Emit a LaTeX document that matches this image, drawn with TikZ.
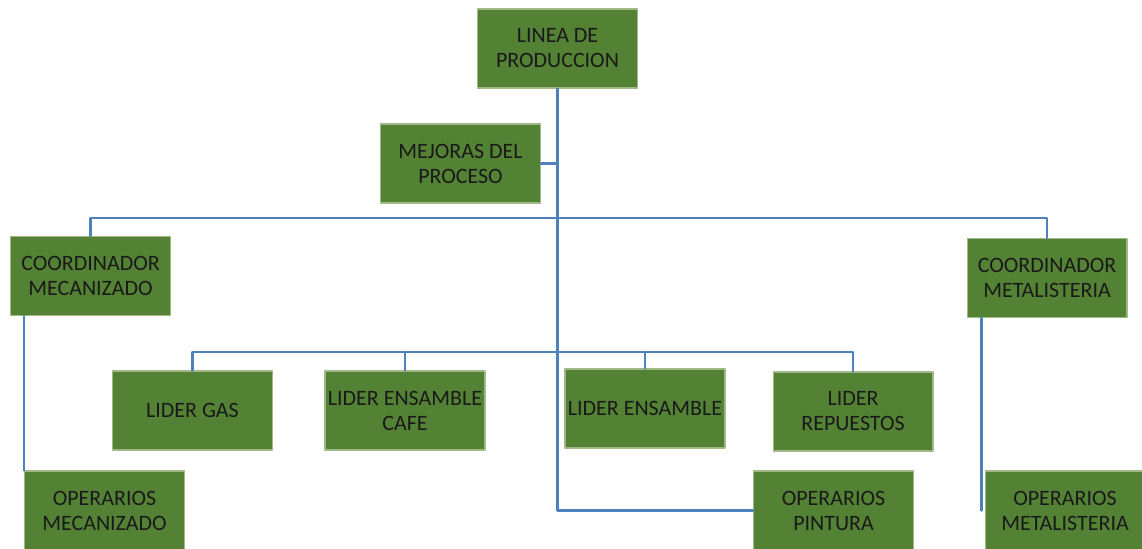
\documentclass[tikz,border=0pt]{standalone}
\usepackage{fontspec}
\setmainfont{Carlito}
\definecolor{verde}{RGB}{84,130,53}
\definecolor{borde}{RGB}{160,185,135}
\definecolor{azul}{RGB}{79,129,189}
\tikzset{
  caja/.style={draw=borde, line width=0.6pt, fill=verde, text=black!90,
    minimum width=3.2cm, minimum height=1.58cm, inner sep=0pt,
    align=center, font=\fontsize{12.5}{14.2}\selectfont},
  linea/.style={draw=azul, line width=1.4pt}
}
\begin{document}
\begin{tikzpicture}[x=0.02cm, y=-0.02cm, line cap=round, line join=round]

\useasboundingbox (0,0) rectangle (1142,548);

% cajas
\node[caja] (lin)   at (557.5,48.5)  {LINEA DE\\PRODUCCION};
\node[caja] (mej)   at (460.5,163.5) {MEJORAS DEL\\PROCESO};
\node[caja] (cmec)  at (90.5,276)    {COORDINADOR\\MECANIZADO};
\node[caja] (cmet)  at (1047,278)    {COORDINADOR\\METALISTERIA};
\node[caja] (lgas)  at (192.5,410.5) {LIDER GAS};
\node[caja] (lcafe) at (405,410.5)   {LIDER ENSAMBLE\\CAFE};
\node[caja] (lens)  at (645,408.5)   {LIDER ENSAMBLE};
\node[caja] (lrep)  at (853,411.5)   {LIDER\\REPUESTOS};
\node[caja] (omec)  at (104.5,510.5) {OPERARIOS\\MECANIZADO};
\node[caja] (opin)  at (833.5,510.5) {OPERARIOS\\PINTURA};
\node[caja] (omet)  at (1065,510.5)  {OPERARIOS\\METALISTERIA};

% barras horizontales
\coordinate (busC) at (558,218);
\coordinate (busL) at (558,352);

% tronco central
\draw[linea] (lin.south) -- (lin.south |- opin.west) -- (opin.west);
\draw[linea] (mej.east) -- (mej.east -| lin.south);

% coordinadores
\draw[linea] (cmec.north) -- (cmec.north |- busC) -- (cmet.north |- busC) -- (cmet.north);

% lideres
\draw[linea] (lgas.north) -- (lgas.north |- busL) -- (lrep.north |- busL) -- (lrep.north);
\draw[linea] (lcafe.north) -- (lcafe.north |- busL);
\draw[linea] (lens.north) -- (lens.north |- busL);

% operarios
\draw[linea] (omec.north west) -- (omec.north west |- cmec.south);
\draw[linea] ([xshift=-0.06cm]omet.west) -- ([xshift=-0.06cm]omet.west |- cmet.south);

\end{tikzpicture}
\end{document}
